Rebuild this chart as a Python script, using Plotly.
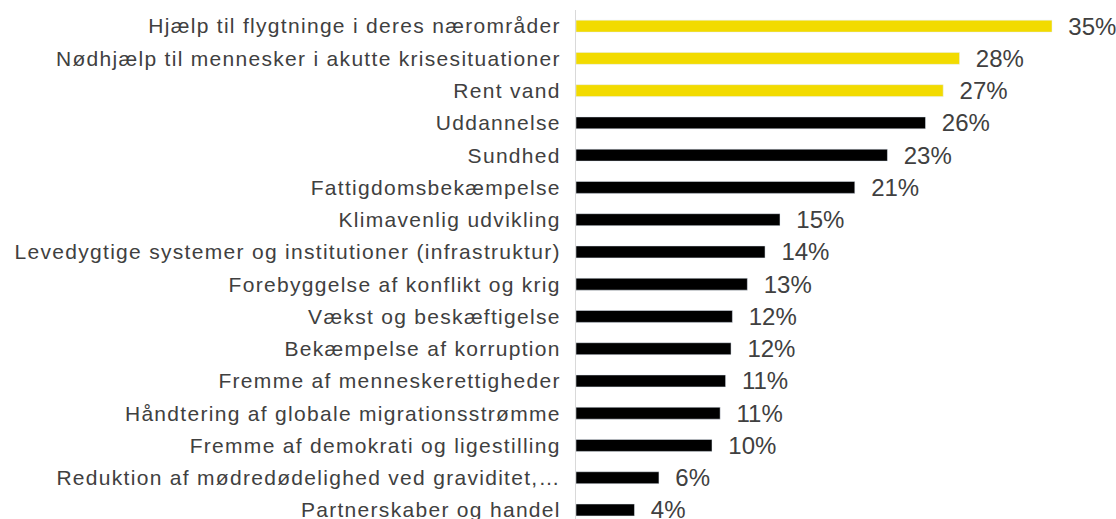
import plotly.graph_objects as go

categories = [
    "Hjælp til flygtninge i deres nærområder",
    "Nødhjælp til mennesker i akutte krisesituationer",
    "Rent vand",
    "Uddannelse",
    "Sundhed",
    "Fattigdomsbekæmpelse",
    "Klimavenlig udvikling",
    "Levedygtige systemer og institutioner (infrastruktur)",
    "Forebyggelse af konflikt og krig",
    "Vækst og beskæftigelse",
    "Bekæmpelse af korruption",
    "Fremme af menneskerettigheder",
    "Håndtering af globale migrationsstrømme",
    "Fremme af demokrati og ligestilling",
    "Reduktion af mødredødelighed ved graviditet,…",
    "Partnerskaber og handel",
]
values = [35.0, 28.2, 27.0, 25.7, 22.9, 20.5, 15.0, 13.9, 12.6, 11.5, 11.4, 11.0, 10.6, 10.0, 6.1, 4.3]
value_labels = ["35%", "28%", "27%", "26%", "23%", "21%", "15%", "14%", "13%",
                "12%", "12%", "11%", "11%", "10%", "6%", "4%"]

YELLOW = "#F2DB00"
BLACK = "#000000"
TEXT = "#404040"
FONT = "Liberation Sans, Arial"
colors = [YELLOW] * 3 + [BLACK] * (len(categories) - 3)

fig = go.Figure(
    go.Bar(
        x=values,
        y=categories,
        orientation="h",
        marker_color=colors,
        width=0.37,
        text=["\u00a0\u00a0" + t for t in value_labels],
        textposition="outside",
        constraintext="none",
        cliponaxis=False,
        textfont=dict(size=24, color=TEXT, family=FONT),
    )
)

fig.update_layout(
    width=1116,
    height=519,
    margin=dict(l=576, r=0, t=10, b=0, autoexpand=False),
    plot_bgcolor="white",
    paper_bgcolor="white",
    showlegend=False,
    font=dict(family=FONT, size=21, color=TEXT),
)
fig.update_xaxes(
    range=[0, (1116 - 576) / 13.6],
    visible=False,
    automargin=False,
)
fig.update_yaxes(
    categoryorder="array",
    categoryarray=categories,
    range=[15.28, -0.5],
    showline=True,
    linecolor="#D9D9D9",
    linewidth=1,
    showgrid=False,
    ticks="",
    automargin=False,
    ticklabelstandoff=10,
    tickfont=dict(size=21, color=TEXT, family=FONT),
)

# no page margin, and Excel-style wider character spacing on the category labels
page_css = "<style>body{margin:0}.ytick text{letter-spacing:1.3px}</style>"
fig.write_html(
    "out.html",
    config={"displayModeBar": False},
    post_script=f"document.head.insertAdjacentHTML('beforeend', '{page_css}');",
)
